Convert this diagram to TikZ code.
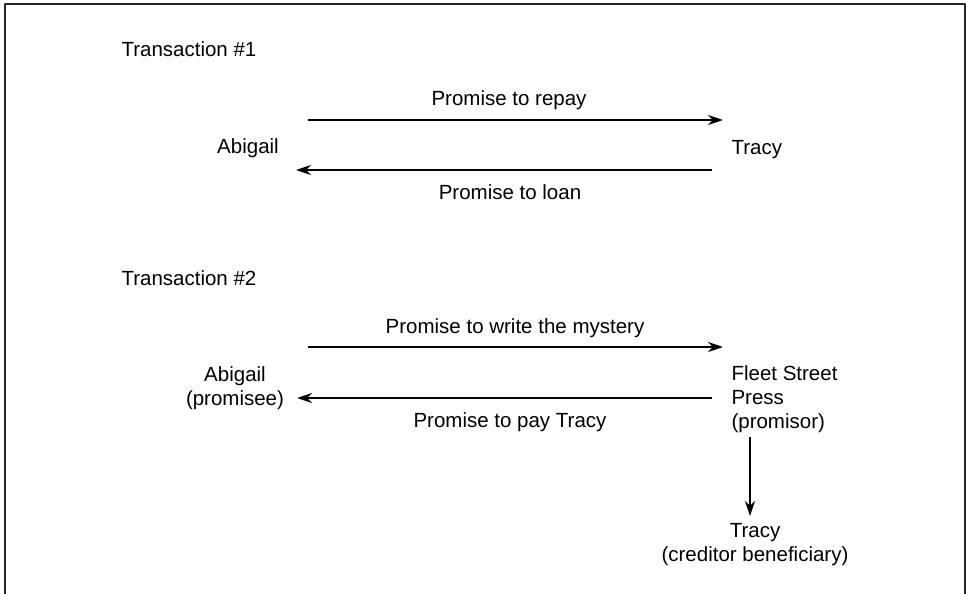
\documentclass[tikz,border=0pt]{standalone}
\usepackage{fontspec}
\setmainfont{Liberation Sans}
\usetikzlibrary{arrows.meta}
\begin{document}
\begin{tikzpicture}[x=1pt, y=-1pt, font=\fontsize{20.5}{24}\selectfont, line join=round, >={Stealth[length=15pt,width=10pt]}]
	\useasboundingbox (0,0) rectangle (969,594);
	% frame, open at the bottom
	\draw[line width=2.2pt, black!85] (5,594)--(5,4)--(965,4)--(965,594);
	% transaction 1
	\node[anchor=base west] (T1) at (118,57) {Transaction \#1};
	\node[anchor=base] (A1) at (248,153) {Abigail};
	\node[anchor=base west] (Y1) at (728,154) {Tracy};
	\path
	(308,120) coordinate (P) (723,120) coordinate (Q)
	(712,170) coordinate (R) (296,170) coordinate (S);
	\draw[line width=2.4pt,->] (P)--(Q);
	\draw[line width=2.4pt,->] (R)--(S);
	\node[anchor=base] (repay) at (509,106) {Promise to repay};
	\node[anchor=base] (loan) at (510,199) {Promise to loan};
	% transaction 2 (base of a multi-line node = its last line)
	\node[anchor=base west] (T2) at (118,285) {Transaction \#2};
	\node[anchor=base, align=center] (A2) at (235,405) {Abigail\\(promisee)};
	\node[anchor=base west, align=left] (F2) at (728,428) {Fleet Street\\Press\\(promisor)};
	\node[anchor=base, align=center] (Y2) at (755,561) {Tracy\\(creditor beneficiary)};
	\path
	(308,347) coordinate (P2) (723,347) coordinate (Q2)
	(712,398) coordinate (R2) (297,398) coordinate (S2)
	(750,437) coordinate (U) (750,516) coordinate (V);
	\draw[line width=2.4pt,->] (P2)--(Q2);
	\draw[line width=2.4pt,->] (R2)--(S2);
	\draw[line width=1.3pt,->] (U)--(V);
	\node[anchor=base] (write) at (515,333) {Promise to write the mystery};
	\node[anchor=base] (pay) at (510,427) {Promise to pay Tracy};
\end{tikzpicture}
\end{document}
